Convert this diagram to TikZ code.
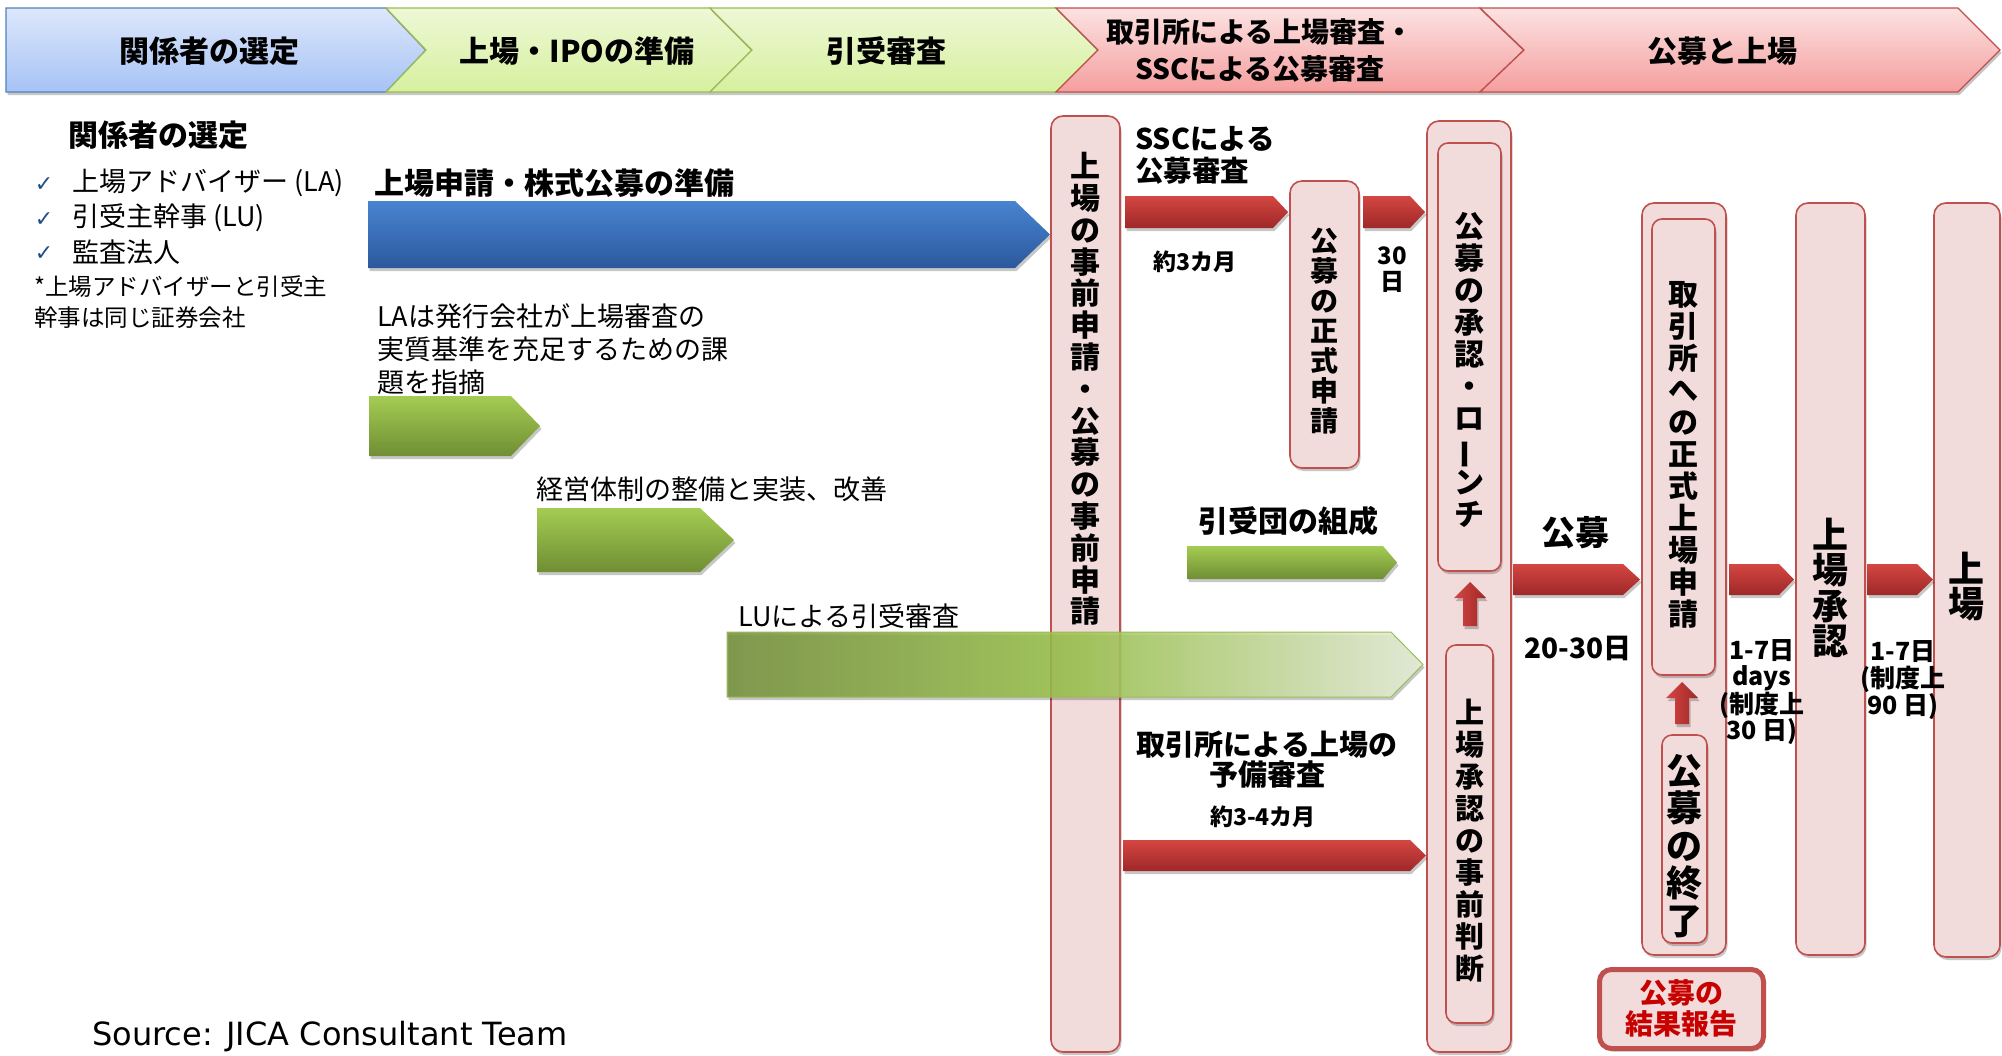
\documentclass[tikz,border=0pt]{standalone}
\usepackage{fontspec}
\setmainfont{Noto Sans CJK JP}
\newfontfamily\dejavu{DejaVu Sans}
\usetikzlibrary{shadows}
\definecolor{pinkfill}{RGB}{242,220,219}
\definecolor{pinkline}{RGB}{192,80,77}
\definecolor{hbluetop}{RGB}{221,231,251}
\definecolor{hbluebot}{RGB}{166,195,245}
\definecolor{hblueline}{RGB}{79,129,189}
\definecolor{hgreentop}{RGB}{238,248,214}
\definecolor{hgreenbot}{RGB}{214,240,158}
\definecolor{hgreenline}{RGB}{155,187,89}
\definecolor{hredtop}{RGB}{252,226,226}
\definecolor{hredbot}{RGB}{245,158,158}
\definecolor{redtop}{RGB}{212,70,66}
\definecolor{redbot}{RGB}{158,40,40}
\definecolor{bluetop}{RGB}{72,132,208}
\definecolor{bluebot}{RGB}{44,88,156}
\definecolor{greentop}{RGB}{164,204,82}
\definecolor{greenbot}{RGB}{112,142,52}
\definecolor{checkblue}{RGB}{31,78,140}
\definecolor{repred}{RGB}{200,0,0}
\newcommand\fsz[1]{\fontsize{#1}{#1}\selectfont}
\newcommand\tatebar{\rotatebox[origin=c]{90}{ー}}
% horizontal block arrow: style, x-start, x-body-end, x-tip, y-top, y-bottom
\newcommand\hblock[6]{\path[#1] (#2,#5) -- (#3,#5) -- (#4,{(#5+#6)/2}) -- (#3,#6) -- (#2,#6) -- cycle;}
% vertical (upward) block arrow: style, x-centre, y-tip, y-bottom
\newcommand\ublock[4]{\path[#1] ({#2-7},#4) -- ({#2-7},{#3+16}) -- ({#2-16},{#3+16}) -- (#2,#3) -- ({#2+16},{#3+16}) -- ({#2+7},{#3+16}) -- ({#2+7},#4) -- cycle;}
\begin{document}
\begin{tikzpicture}[x=1pt,y=-1pt,
  softshadow/.style={drop shadow={shadow xshift=1.5pt,shadow yshift=-3pt,opacity=0.22,fill=black}},
  hdrblue/.style={top color=hbluetop,bottom color=hbluebot,draw=hblueline,line width=1.3pt,softshadow},
  hdrgreen/.style={top color=hgreentop,bottom color=hgreenbot,draw=hgreenline,line width=1.3pt,softshadow},
  hdrred/.style={top color=hredtop,bottom color=hredbot,draw=pinkline,line width=1.3pt,softshadow},
  redarrow/.style={top color=redtop,bottom color=redbot,softshadow},
  uparrow/.style={left color=redtop,right color=redbot,softshadow},
  bluearrow/.style={top color=bluetop,bottom color=bluebot,softshadow},
  greenarrow/.style={top color=greentop,bottom color=greenbot,softshadow},
  biggreen/.style={left color={rgb,255:red,116;green,144;blue,58},right color={rgb,255:red,230;green,238;blue,216},middle color={rgb,255:red,156;green,196;blue,76},draw=hgreenline,line width=1pt,fill opacity=0.86,softshadow},
  pinkbox/.style={draw=pinkline,fill=pinkfill,line width=1.6pt,rounded corners=12pt,inner sep=0pt,softshadow},
  inbox/.style={draw=pinkline,fill=pinkfill,line width=1.6pt,rounded corners=10pt,inner sep=0pt,softshadow},
  txt/.style={inner sep=0pt},
  hdrtxt/.style={inner sep=0pt,font=\bfseries\fsz{30}},
  vtxt/.style={inner sep=0pt,align=center},
  checkm/.style={inner sep=0pt,text=checkblue,font=\dejavu\fsz{22}}]
\useasboundingbox (0,0) rectangle (2002,1055);
\fill[white] (0,0) rectangle (2002,1055);
% ---------- header chevrons ----------
\path[hdrblue] (6,8) -- (386,8) -- (426,50) -- (386,92) -- (6,92) -- cycle;
\path[hdrgreen] (386,8) -- (710,8) -- (752,50) -- (710,92) -- (386,92) -- (426,50) -- cycle;
\path[hdrgreen] (710,8) -- (1056,8) -- (1098,50) -- (1056,92) -- (710,92) -- (752,50) -- cycle;
\path[hdrred] (1056,8) -- (1480,8) -- (1524,50) -- (1480,92) -- (1056,92) -- (1098,50) -- cycle;
\path[hdrred] (1480,8) -- (1958,8) -- (2000,50) -- (1958,92) -- (1480,92) -- (1524,50) -- cycle;
\node[hdrtxt] (h1) at (209,51) {関係者の選定};
\node[hdrtxt] (h2) at (577,51) {上場・IPOの準備};
\node[hdrtxt] (h3) at (886,51) {引受審査};
\node[hdrtxt,align=center,font=\bfseries\fontsize{28}{37}\selectfont] (h4) at (1260,50) {取引所による上場審査・\\SSCによる公募審査};
\node[hdrtxt] (h5) at (1722,51) {公募と上場};
% ---------- left column ----------
\node[txt,anchor=west,font=\bfseries\fsz{30}] (sel) at (68,135) {関係者の選定};
\node[checkm] (c1) at (44,185) {✓};
\node[checkm] (c2) at (44,220) {✓};
\node[checkm] (c3) at (44,254) {✓};
\node[txt,anchor=west,font=\fsz{27}] (la) at (72,183) {上場アドバイザー (LA)};
\node[txt,anchor=west,font=\fsz{27}] (lu) at (72,218) {引受主幹事 (LU)};
\node[txt,anchor=west,font=\fsz{27}] (au) at (72,252) {監査法人};
\node[txt,anchor=west,align=left,font=\fontsize{23.5}{31}\selectfont] (note) at (34,302) {*上場アドバイザーと引受主\\幹事は同じ証券会社};
% ---------- preparation arrows ----------
\node[txt,anchor=west,font=\bfseries\fsz{30}] (prep) at (374,183) {上場申請・株式公募の準備};
\hblock{bluearrow}{368}{1015}{1050}{201}{268}
\node[txt,anchor=west,align=left,font=\fontsize{27}{33}\selectfont] (ladesc) at (377,349) {LAは発行会社が上場審査の\\実質基準を充足するための課\\題を指摘};
\hblock{greenarrow}{369}{511}{540}{396}{456}
\node[txt,anchor=west,font=\fsz{27}] (keiei) at (536,489) {経営体制の整備と実装、改善};
\hblock{greenarrow}{537}{700}{734}{508}{572}
\node[txt,anchor=west,font=\fsz{27}] (lurev) at (738,616) {LUによる引受審査};
% ---------- boxes ----------
\node[pinkbox,minimum width=69,minimum height=936] (b1) at (1085.5,584) {};
\node[vtxt,font=\bfseries\fontsize{30}{31.8}\selectfont] (t1) at (1085.5,389) {上\\場\\の\\事\\前\\申\\請\\・\\公\\募\\の\\事\\前\\申\\請};
% big LU arrow over box 1
\hblock{biggreen}{727}{1391}{1423}{632}{697}
\node[pinkbox,minimum width=69,minimum height=287] (b2) at (1324.5,324.5) {};
\node[vtxt,font=\bfseries\fontsize{28}{30}\selectfont] (t2) at (1324.5,331) {公\\募\\の\\正\\式\\申\\請};
\node[pinkbox,minimum width=84,minimum height=931] (b3) at (1469,586.5) {};
\node[inbox,minimum width=63,minimum height=428] (bA) at (1469.5,357) {};
\node[vtxt,font=\bfseries\fontsize{30}{32}\selectfont] (tA) at (1469.5,370) {公\\募\\の\\承\\認\\・\\ロ\\\tatebar\\ン\\チ};
\node[inbox,minimum width=47,minimum height=378] (bB) at (1469.5,834) {};
\node[vtxt,font=\bfseries\fontsize{29}{32}\selectfont] (tB) at (1469.5,841) {上\\場\\承\\認\\の\\事\\前\\判\\断};
\node[pinkbox,minimum width=84,minimum height=752] (b4) at (1684,579) {};
\node[inbox,minimum width=63,minimum height=456] (bC) at (1683.5,447) {};
\node[vtxt,font=\bfseries\fontsize{30}{32}\selectfont] (tC) at (1683.5,455) {取\\引\\所\\へ\\の\\正\\式\\上\\場\\申\\請};
\node[inbox,minimum width=45,minimum height=208] (bD) at (1684.5,839) {};
\node[vtxt,font=\bfseries\fontsize{36}{37.5}\selectfont] (tD) at (1684.5,846) {公\\募\\の\\終\\了};
\node[pinkbox,minimum width=69,minimum height=752] (b5) at (1830.5,579) {};
\node[vtxt,font=\bfseries\fontsize{36}{35.5}\selectfont] (t5) at (1830,588) {上\\場\\承\\認};
\node[pinkbox,minimum width=66,minimum height=754] (b6) at (1967,580) {};
\node[vtxt,font=\bfseries\fontsize{36}{35}\selectfont] (t6) at (1966,587) {上\\場};
% ---------- red arrows ----------
\hblock{redarrow}{1125}{1273}{1288}{196}{228}
\hblock{redarrow}{1363}{1410}{1425}{196}{228}
\hblock{redarrow}{1123}{1410}{1426}{840}{871}
\hblock{redarrow}{1513}{1623}{1640}{564}{595}
\hblock{redarrow}{1729}{1779}{1794}{564}{595}
\hblock{redarrow}{1867}{1917}{1933}{564}{595}
\ublock{uparrow}{1470}{582}{626}
\ublock{uparrow}{1682}{682}{724}
% ---------- green arrow: syndicate ----------
\node[txt,font=\bfseries\fsz{30}] (synd) at (1288,521) {引受団の組成};
\hblock{greenarrow}{1187}{1383}{1397}{546}{579}
% ---------- labels ----------
\node[txt,anchor=west,align=left,font=\bfseries\fontsize{28.5}{32}\selectfont] (ssc) at (1135,155) {SSCによる\\公募審査};
\node[txt,font=\bfseries\fsz{23}] (m3) at (1195,262) {約3カ月};
\node[txt,align=center,font=\bfseries\fontsize{24}{26}\selectfont] (d30) at (1392,270) {30\\日};
\node[txt,align=center,font=\bfseries\fontsize{29}{30}\selectfont] (pre) at (1267,760) {取引所による上場の\\予備審査};
\node[txt,font=\bfseries\fsz{23}] (m34) at (1263,817) {約3-4カ月};
\node[txt,font=\bfseries\fsz{34}] (kobo) at (1575,533) {公募};
\node[txt,font=\bfseries\fsz{28}] (d2030) at (1578,648) {20-30日};
\node[txt,align=center,font=\bfseries\fontsize{25}{26.5}\selectfont] (d17a) at (1762,692) {1-7日\\days\\(制度上\\30 日)};
\node[txt,align=center,font=\bfseries\fontsize{25}{27}\selectfont] (d17b) at (1903,680) {1-7日\\(制度上\\90 日)};
% ---------- report box ----------
\node[draw=pinkline,fill=pinkfill,line width=5pt,rounded corners=12pt,minimum width=164,minimum height=79,inner sep=0pt,softshadow] (rep) at (1681.5,1009) {};
\node[txt,align=center,text=repred,font=\bfseries\fontsize{28}{31}\selectfont] (rept) at (1681.5,1008) {公募の\\結果報告};
% ---------- source ----------
\node[txt,anchor=west,font=\dejavu\fsz{32}] (src) at (92,1037) {Source: JICA Consultant Team};
\end{tikzpicture}
\end{document}
